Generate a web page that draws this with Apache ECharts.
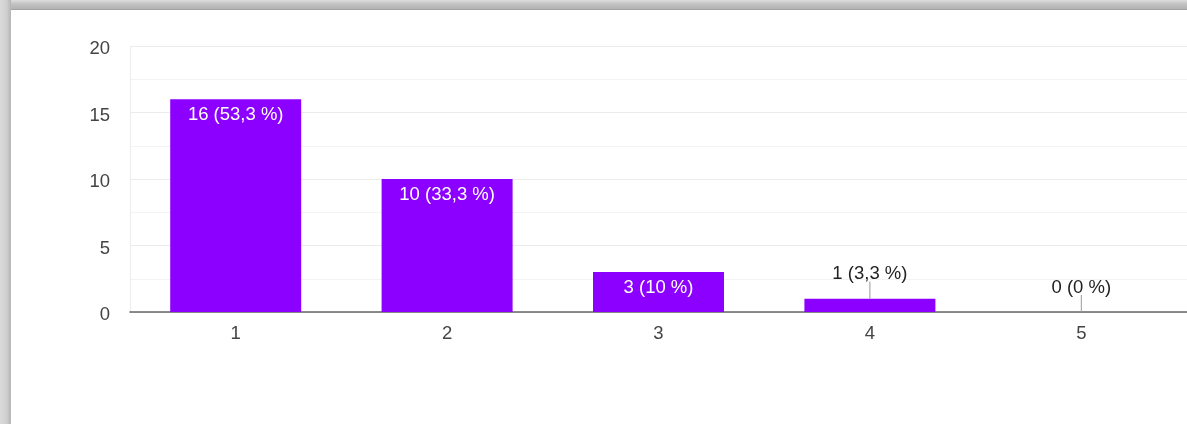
<!DOCTYPE html>
<html>
<head>
<meta charset="utf-8">
<script src="https://cdn.jsdelivr.net/npm/echarts@6/dist/echarts.min.js"></script>
<style>
  html, body { margin: 0; padding: 0; width: 1187px; height: 424px; overflow: hidden; background: #c9c9c9; }
  #frameTop { position: absolute; left: 0; top: 0; width: 1187px; height: 10px;
    background: linear-gradient(#dedede, #c2c2c2 40%, #b4b4b4 85%, #9a9a9a 100%); }
  #frameLeft { position: absolute; left: 0; top: 0; width: 11px; height: 424px;
    background: linear-gradient(to right, #dadada, #cfcfcf 60%, #b5b5b5 100%); }
  #paper { position: absolute; left: 11px; top: 10px; width: 1176px; height: 414px; background: #ffffff; }
  #chart { position: absolute; left: 0; top: 0; width: 1187px; height: 424px; }
</style>
</head>
<body>
<div id="frameTop"></div>
<div id="frameLeft"></div>
<div id="paper"></div>
<div id="chart"></div>
<script>
const categories = ['1', '2', '3', '4', '5'];
const counts = [16, 10, 3, 1, 0];
const yTicks = [0, 5, 10, 15, 20];

const total = counts.reduce((a, b) => a + b, 0);
function pctText(v) {
  let p = (v / total * 100).toFixed(1).replace('.', ',');
  if (p.endsWith(',0')) p = p.slice(0, -2);
  return v + ' (' + p + ' %)';
}
const FONT = "Arial, 'Liberation Sans', sans-serif";
const INSIDE_MIN = 2;

const chart = echarts.init(document.getElementById('chart'), null, { renderer: 'canvas' });
chart.setOption({
  animation: false,
  backgroundColor: 'transparent',
  grid: { left: 130, right: -1.5, top: 46, bottom: 112, containLabel: false },
  xAxis: {
    type: 'category',
    data: categories,
    axisLine: { show: true, lineStyle: { color: '#666666', width: 1.6 } },
    axisTick: { show: false },
    axisLabel: { color: '#444444', fontSize: 18.5, fontFamily: FONT, margin: 12 },
    splitLine: { show: false }
  },
  yAxis: {
    type: 'value',
    min: yTicks[0],
    max: yTicks[yTicks.length - 1],
    interval: 5,
    axisLine: { show: true, lineStyle: { color: '#ececec', width: 1 } },
    axisTick: { show: false },
    axisLabel: { color: '#444444', fontSize: 18.5, fontFamily: FONT, margin: 20,
                 verticalAlign: 'top', lineHeight: 6.6 },
    splitLine: { show: true, lineStyle: { color: '#ebebeb', width: 1.2 } },
    minorTick: { show: false, splitNumber: 2 },
    minorSplitLine: { show: true, lineStyle: { color: '#f3f3f3', width: 1 } }
  },
  series: [
    {
      type: 'bar',
      barWidth: 131,
      itemStyle: { color: '#8c00ff' },
      data: counts.map(v => ({
        value: v,
        label: { show: v >= INSIDE_MIN }
      })),
      label: {
        position: 'insideTop',
        distance: 6,
        color: '#ffffff',
        fontSize: 18.5,
        fontFamily: FONT,
        formatter: p => pctText(p.value)
      },
      z: 2
    },
    {
      type: 'custom',
      data: counts.map((v, i) => [i, v]).filter(d => d[1] < INSIDE_MIN),
      renderItem: function (params, api) {
        const pt = api.coord([api.value(0), api.value(1)]);
        const lineLen = 17;
        return {
          type: 'group',
          children: [
            {
              type: 'line',
              shape: { x1: pt[0], y1: pt[1] - lineLen, x2: pt[0], y2: pt[1] },
              style: { stroke: '#9a9a9a', lineWidth: 1 }
            },
            {
              type: 'text',
              x: pt[0],
              y: pt[1] - lineLen + 2,
              style: {
                text: pctText(api.value(1)),
                fill: '#222222',
                font: '18.5px ' + FONT,
                align: 'center',
                verticalAlign: 'bottom'
              }
            }
          ]
        };
      },
      z: 3
    }
  ]
});
</script>
</body>
</html>
